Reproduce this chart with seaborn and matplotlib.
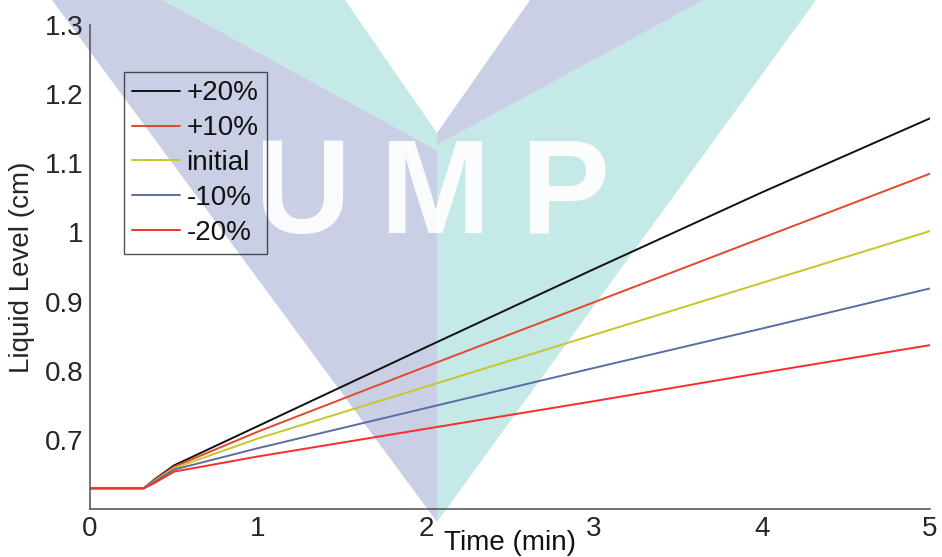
import numpy as np
import pandas as pd
import matplotlib
matplotlib.use("Agg")
import matplotlib.pyplot as plt
from matplotlib.patches import Polygon
import seaborn as sns

# ---------------- data ----------------
time_min = [0.0, 0.32, 0.38, 0.5, 1.0, 2.0, 3.0, 4.0, 5.0]
level_p20 = [0.630, 0.630, 0.642, 0.663, 0.720, 0.834, 0.947, 1.058, 1.165]
level_p10 = [0.630, 0.630, 0.641, 0.661, 0.712, 0.806, 0.899, 0.992, 1.085]
level_init = [0.630, 0.630, 0.640, 0.659, 0.702, 0.777, 0.852, 0.927, 1.002]
level_m10 = [0.630, 0.630, 0.639, 0.657, 0.688, 0.746, 0.804, 0.861, 0.919]
level_m20 = [0.630, 0.630, 0.637, 0.654, 0.676, 0.716, 0.756, 0.797, 0.837]
series_labels = ["+20%", "+10%", "initial", "-10%", "-20%"]
series_colors = ["#111111", "#e2492c", "#c6c62a", "#5a6ea4", "#ff2b2b"]
xticks = [0, 1, 2, 3, 4, 5]
yticks = [0.7, 0.8, 0.9, 1.0, 1.1, 1.2, 1.3]
ytick_labels = ["0.7", "0.8", "0.9", "1", "1.1", "1.2", "1.3"]

frames = []
for lab, vals in zip(series_labels, [level_p20, level_p10, level_init, level_m10, level_m20]):
    frames.append(pd.DataFrame({"Time": time_min, "Level": vals, "Case": lab}))
df = pd.concat(frames, ignore_index=True)

# ---------------- style ----------------
sns.set_style("white")
plt.rcParams["font.family"] = ["Liberation Sans", "DejaVu Sans"]
plt.rcParams["font.size"] = 20

W, H = 942, 557
fig = plt.figure(figsize=(W / 100, H / 100), dpi=100)
fig.patch.set_facecolor("white")

# ---------------- background watermark (figure pixel coords, top-left origin) ----
def px(pts):
    return [(x / W, 1 - y / H) for x, y in pts]

lav = "#c9cfe5"
teal = "#c4e9e6"
wm_shapes = [
    ([(52, 0), (163, 0), (437, 150), (437, 522)], lav),
    ([(163, 0), (345, 0), (437, 133), (437, 150)], teal),
    ([(704, 0), (816, 0), (437, 522), (437, 145)], teal),
    ([(530, 0), (704, 0), (437, 145), (437, 133)], lav),
]
for pts, col in wm_shapes:
    fig.add_artist(Polygon(px(pts), closed=True, transform=fig.transFigure,
                           facecolor=col, edgecolor="none", zorder=-5))
for letter, cx in [("U", 303), ("M", 435), ("P", 565)]:
    fig.text(cx / W, 1 - 233 / H, letter, ha="center", va="baseline",
             fontsize=96, fontweight="bold", color="white", alpha=0.92,
             zorder=-4)

# ---------------- axes ----------------
ax = fig.add_axes([90 / W, 1 - 509 / H, 840 / W, 484 / H])
ax.set_facecolor("none")

sns.lineplot(data=df, x="Time", y="Level", hue="Case", hue_order=series_labels,
             palette=series_colors, estimator=None, errorbar=None, sort=False,
             linewidth=1.4, legend=False, ax=ax)

ax.set_xlim(0, 5)
ax.set_ylim(0.6, 1.3)
ax.set_xticks(xticks)
ax.set_xticklabels([str(v) for v in xticks])
ax.set_yticks(yticks)
ax.set_yticklabels(ytick_labels)

for s in ["top", "right"]:
    ax.spines[s].set_visible(False)
for s in ["left", "bottom"]:
    ax.spines[s].set_color("#5a5a5a")
    ax.spines[s].set_linewidth(1.2)

ax.tick_params(axis="both", direction="in", length=7, width=1.0, color="#5a5a5a",
               labelsize=20, labelcolor="#262626")
ax.tick_params(axis="y", pad=5)
ax.tick_params(axis="x", pad=5)

ax.set_xlabel("Time (min)", fontsize=20, color="#111111")
ax.set_ylabel("Liquid Level (cm)", fontsize=20, color="#262626")
ax.xaxis.set_label_coords(0.5, (509 - 543) / 484)
ax.xaxis.label.set_va("center")
ax.yaxis.set_label_coords((22 - 90) / 840, 0.5)
ax.yaxis.label.set_va("center")

leg = ax.legend(handles=ax.lines[:5], labels=series_labels,
                loc="upper left", bbox_to_anchor=(124 / W, 1 - 72 / H),
                bbox_transform=fig.transFigure, borderaxespad=0,
                fontsize=20, frameon=True, fancybox=False,
                handlelength=1.7, handletextpad=0.25, borderpad=0.3,
                labelspacing=0.32)
leg.get_frame().set_facecolor("none")
leg.get_frame().set_edgecolor("#262626")
leg.get_frame().set_linewidth(1.0)
for t in leg.get_texts():
    t.set_color("#111111")

fig.savefig("out.png", dpi=100)
